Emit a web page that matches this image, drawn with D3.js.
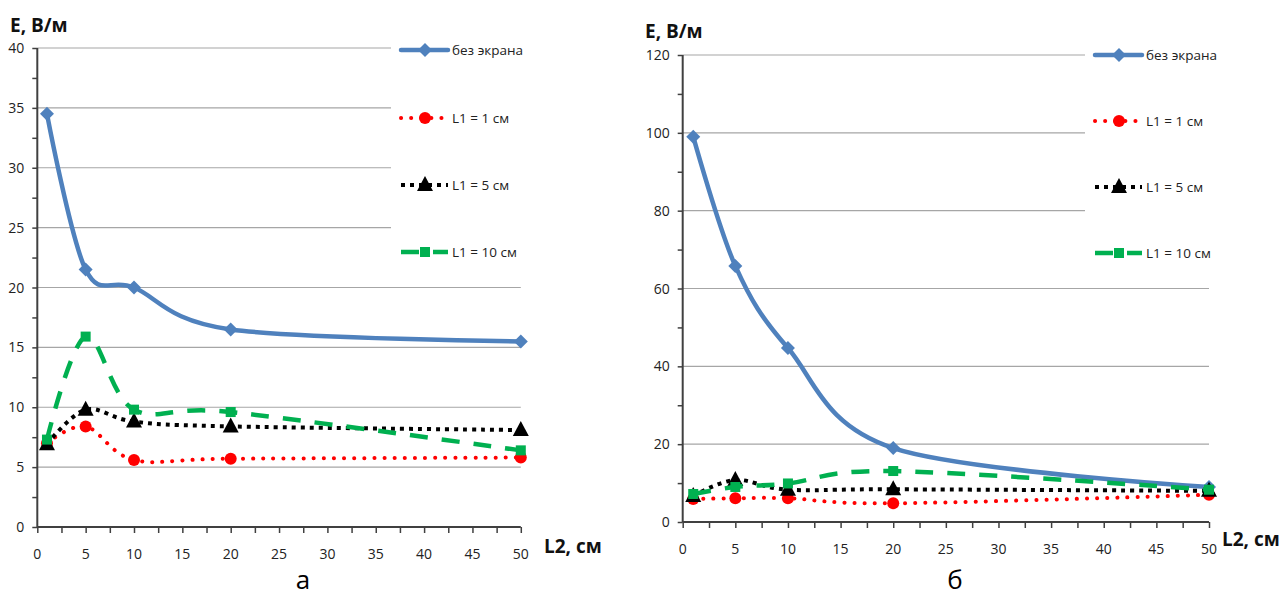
<!DOCTYPE html>
<html>
<head>
<meta charset="utf-8">
<script src="https://cdn.jsdelivr.net/npm/d3@7"></script>
<style>
  body { margin: 0; background: #fff; }
  text { font-family: "Open Sans", "Liberation Sans", sans-serif; }
</style>
</head>
<body>
<svg id="chart" width="1285" height="597"></svg>
<script>
// L2 positions (cm)
const xValues = [1, 5, 10, 20, 50];
const seriesNames = ["без экрана", "L1 = 1 см", "L1 = 5 см", "L1 = 10 см"];

// panel а
const noScreenA = [34.5, 21.5, 20.0, 16.5, 15.5];
const l1cm1A = [7.0, 8.4, 5.6, 5.7, 5.8];
const l1cm5A = [6.9, 9.8, 8.8, 8.4, 8.1];
const l1cm10A = [7.3, 15.9, 9.8, 9.6, 6.4];

// panel б
const noScreenB = [99, 65.8, 44.7, 19, 9];
const l1cm1B = [5.9, 6.1, 6.1, 4.8, 7.0];
const l1cm5B = [6.7, 10.8, 8.3, 8.4, 8.0];
const l1cm10B = [7.2, 9.0, 9.9, 13.1, 8.3];

const yTicksA = [0, 5, 10, 15, 20, 25, 30, 35, 40];
const yTicksB = [0, 20, 40, 60, 80, 100, 120];
const xTicks = [0, 5, 10, 15, 20, 25, 30, 35, 40, 45, 50];

// look of each series
const styles = [
  { color: "#4f81bd", width: 4.5, dash: null, cap: "round", marker: "diamond" },
  { color: "#ff0000", width: 4, dash: "0.1 10", cap: "round", marker: "circle" },
  { color: "#000000", width: 4, dash: "4 5", cap: "butt", marker: "triangle" },
  { color: "#00b050", width: 4.5, dash: "18 14", cap: "butt", marker: "square" }
];

const svg = d3.select("#chart");

function drawMarker(g, type, color, x, y) {
  if (type === "diamond") {
    g.append("path").attr("d", `M${x},${y-7}L${x+7},${y}L${x},${y+7}L${x-7},${y}Z`).attr("fill", color);
  } else if (type === "circle") {
    g.append("circle").attr("cx", x).attr("cy", y).attr("r", 6).attr("fill", color);
  } else if (type === "triangle") {
    g.append("path").attr("d", `M${x},${y-9}L${x+8},${y+6}L${x-8},${y+6}Z`).attr("fill", color);
  } else {
    g.append("rect").attr("x", x - 5).attr("y", y - 5).attr("width", 10).attr("height", 10).attr("fill", color);
  }
}

function drawPanel(p) {
  const x = d3.scaleLinear().domain([0, 50]).range([p.left, p.right]);
  const y = d3.scaleLinear().domain([0, p.yMax]).range([p.bottom, p.top]);
  const g = svg.append("g");

  // grid
  g.selectAll(".grid").data(p.yTicks.slice(1)).enter()
    .append("line")
    .attr("x1", p.left).attr("x2", p.right)
    .attr("y1", d => y(d)).attr("y2", d => y(d))
    .attr("stroke", "#a6a6a6").attr("stroke-width", 1.2);

  // y axis
  const yAxis = d3.axisLeft(y).tickValues(d3.range(0, p.yMax + 0.001, p.yMax / (p.yTicks.length - 1) / 2))
    .tickSize(5).tickFormat("");
  const ya = g.append("g").attr("transform", `translate(${p.left},0)`).call(yAxis);
  ya.selectAll("line, path").attr("stroke", "#404040").attr("stroke-width", 1.5);
  ya.select(".domain").attr("d", `M0,${p.bottom}V${p.top}`).attr("stroke-width", 2);
  g.selectAll(".ylab").data(p.yTicks).enter()
    .append("text")
    .attr("x", p.left - 13).attr("y", d => y(d) + 5)
    .attr("text-anchor", "end").attr("font-size", 14).attr("fill", "#222")
    .text(d => d);

  // x axis
  const xAxis = d3.axisBottom(x).tickValues(d3.range(0, 50.001, 2.5)).tickSize(6).tickFormat("");
  const xa = g.append("g").attr("transform", `translate(0,${p.bottom})`).call(xAxis);
  xa.selectAll("line, path").attr("stroke", "#404040").attr("stroke-width", 1.5);
  xa.select(".domain").attr("d", `M${p.left},0H${p.right}`).attr("stroke-width", 2);
  g.selectAll(".xlab").data(xTicks).enter()
    .append("text")
    .attr("x", d => x(d)).attr("y", p.bottom + p.xLabGap)
    .attr("text-anchor", "middle").attr("font-size", 14).attr("fill", "#222")
    .text(d => d);

  // series
  const line = d3.line().x((d, i) => x(xValues[i])).y(d => y(d)).curve(d3.curveCardinal.tension(0));
  p.series.forEach((vals, si) => {
    const s = styles[si];
    g.append("path").attr("d", line(vals))
      .attr("fill", "none").attr("stroke", s.color).attr("stroke-width", s.width)
      .attr("stroke-dasharray", s.dash).attr("stroke-linecap", s.cap);
    vals.forEach((v, i) => drawMarker(g, s.marker, s.color, x(xValues[i]), y(v)));
  });

  // legend (white box over the grid)
  const lg = g.append("g");
  lg.append("rect").attr("x", p.legX - 10).attr("y", 28).attr("width", 150).attr("height", 245).attr("fill", "#fff");
  seriesNames.forEach((name, i) => {
    const s = styles[i];
    const ly = p.legY[i];
    lg.append("line").attr("x1", p.legX).attr("x2", p.legX + 47).attr("y1", ly).attr("y2", ly)
      .attr("stroke", s.color).attr("stroke-width", s.width)
      .attr("stroke-dasharray", s.dash).attr("stroke-linecap", s.cap);
    drawMarker(lg, s.marker, s.color, p.legX + 24, ly);
    lg.append("text").attr("x", p.legX + 51).attr("y", ly + 5)
      .attr("font-size", 13.5).attr("fill", "#222").text(name);
  });

  // titles
  g.append("text").attr("x", p.yTitleX).attr("y", p.yTitleY)
    .attr("font-size", 19).attr("font-weight", "bold").attr("fill", "#111").text("E, В/м");
  g.append("text").attr("x", p.xTitleX).attr("y", p.xTitleY)
    .attr("font-size", 19).attr("font-weight", "bold").attr("fill", "#111").text("L2, см");
  g.append("text").attr("x", p.capX).attr("y", p.capY).attr("text-anchor", "middle")
    .attr("font-size", 26).attr("fill", "#000").text(p.caption);
}

drawPanel({
  left: 37.3, right: 520.8, top: 48, bottom: 527, yMax: 40, yTicks: yTicksA, xLabGap: 32,
  series: [noScreenA, l1cm1A, l1cm5A, l1cm10A],
  legX: 401, legY: [50, 118, 185, 252],
  yTitleX: 10, yTitleY: 32, xTitleX: 544, xTitleY: 553,
  caption: "а", capX: 303, capY: 589
});

drawPanel({
  left: 682.7, right: 1209, top: 55, bottom: 522, yMax: 120, yTicks: yTicksB, xLabGap: 32,
  series: [noScreenB, l1cm1B, l1cm5B, l1cm10B],
  legX: 1095, legY: [55, 121, 187, 253],
  yTitleX: 645, yTitleY: 38, xTitleX: 1222, xTitleY: 546,
  caption: "б", capX: 955, capY: 589
});
</script>
</body>
</html>
